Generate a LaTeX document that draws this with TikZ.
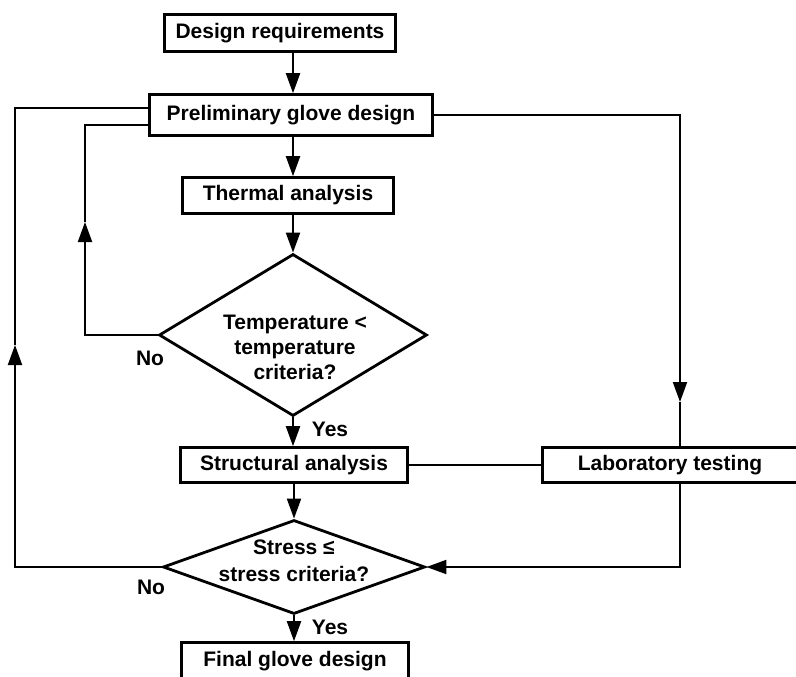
\documentclass[tikz,border=0pt]{standalone}
\usepackage{fontspec}
\setmainfont{Liberation Sans}
\usetikzlibrary{arrows.meta,shapes.geometric}
\begin{document}
\begin{tikzpicture}[x=1pt,y=-1pt,
  box/.style={draw, line width=2.6pt, rectangle, inner sep=0pt, font=\bfseries\fontsize{21}{26}\selectfont},
  dia/.style={draw, line width=2.8pt, diamond, inner sep=0pt},
  conn/.style={line width=2pt},
  arr/.style={-{Triangle[length=20pt,width=14pt]}},
  lbl/.style={font=\bfseries\fontsize{21}{26}\selectfont, inner sep=0pt},
]
\useasboundingbox (0,0) rectangle (796,677);

% boxes
\node[box, minimum width=231pt, minimum height=37pt] (dr) at (280,33) {Design requirements};
\node[box, minimum width=283pt, minimum height=41pt] (pgd) at (291,115) {Preliminary glove design};
\node[box, minimum width=211pt, minimum height=36pt] (ta) at (288,195.5) {Thermal analysis};
\node[box, minimum width=227pt, minimum height=35pt] (sa) at (294,465) {Structural analysis};
\node[box, minimum width=255pt, minimum height=35pt] (lt) at (670,465) {Laboratory testing};
\node[box, minimum width=227pt, minimum height=37pt] (fgd) at (295,661) {Final glove design};

% diamonds
\node[dia, minimum width=268pt, minimum height=162pt] (d1) at (293,335) {};
\node[dia, minimum width=262pt, minimum height=94pt] (d2) at (294,567) {};
\node[lbl, align=center, font=\bfseries\fontsize{21}{25}\selectfont] (t1) at (295,347) {Temperature <\\temperature\\criteria?};
\node[lbl, align=center, font=\bfseries\fontsize{21}{27}\selectfont] (t2) at (294,561) {Stress ≤\\stress criteria?};

% labels
\node[lbl] (no1) at (150,358) {No};
\node[lbl] (no2) at (151,587) {No};
\node[lbl] (yes1) at (330,429) {Yes};
\node[lbl] (yes2) at (330,627) {Yes};

% helper coordinates for mid-line arrows
\coordinate (rc) at (680,402);
\coordinate (ia) at (85,222);
\coordinate (oa) at (15,345);

% main flow
\draw[conn,arr] (dr.south -| d1.north) -- (pgd.north -| d1.north);
\draw[conn,arr] (pgd.south -| d1.north) -- (ta.north -| d1.north);
\draw[conn,arr] (ta.south -| d1.north) -- (d1.north);
\draw[conn,arr] (d1.south) -- (sa.north -| d1.south);
\draw[conn,arr] (sa.south -| d2.north) -- (d2.north);
\draw[conn,arr] (d2.south) -- (fgd.north -| d2.south);

% laboratory branch
\draw[conn,arr] (pgd.east) -| (rc);
\draw[conn] (rc) -- (rc |- lt.north);
\draw[conn] (sa.east) -- (lt.west);
\draw[conn,arr] (rc |- lt.south) |- (d2.east);

% feedback loops
\draw[conn,arr] (d1.west) -| (ia);
\draw[conn] (ia) |- ([yshift=-10pt]pgd.west);
\draw[conn,arr] (d2.west) -| (oa);
\draw[conn] (oa) |- ([yshift=7pt]pgd.west);
\end{tikzpicture}
\end{document}
